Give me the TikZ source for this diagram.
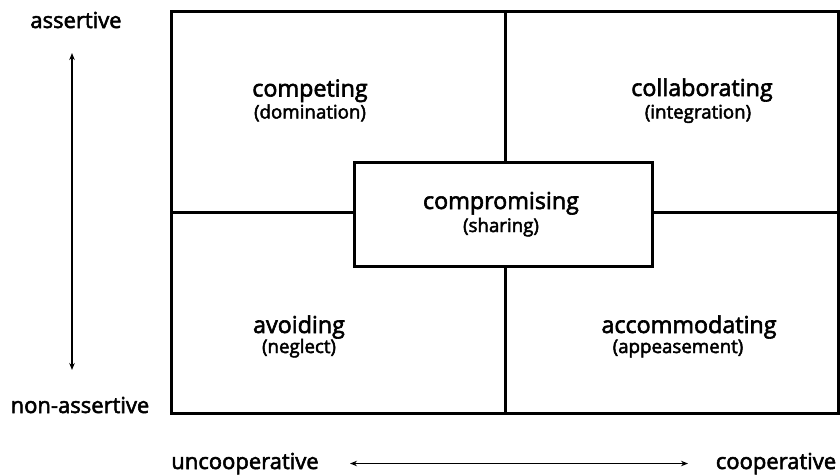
\documentclass[tikz,border=0pt]{standalone}
\usepackage{fontspec}
\setmainfont{Open Sans}
\newfontfamily\semifont{Open Sans}[FakeBold=2.5]
\usetikzlibrary{arrows.meta}
\begin{document}
\begin{tikzpicture}[x=1pt,y=-1pt,
  frame/.style={line width=3pt},
  axis/.style={line width=1.5pt,{Stealth[length=7pt,width=5.5pt]}-{Stealth[length=7pt,width=5.5pt]}},
  main/.style={anchor=base,font=\semifont\fontsize{23.3}{25}\selectfont},
  sub/.style={anchor=base,font=\semifont\fontsize{18.7}{20}\selectfont},
  axlabel/.style={anchor=base,font=\semifont\fontsize{22}{24}\selectfont}]
\useasboundingbox (0,0) rectangle (840,475);
% outer frame corners
\coordinate (tl) at (171,11);
\coordinate (br) at (838,413);
\coordinate (tm) at (505,11);
\coordinate (bm) at (505,413);
\coordinate (ml) at (171,212);
\coordinate (mr) at (838,212);
\draw[frame] (tl) rectangle (br);
\node[frame,draw,fill=white,minimum width=298pt,minimum height=104pt,inner sep=0pt] (cbox) at (503,214) {};
\draw[frame] (tm) -- (cbox.north -| tm);
\draw[frame] (cbox.south -| bm) -- (bm);
\draw[frame] (ml) -- (ml -| cbox.west);
\draw[frame] (mr -| cbox.east) -- (mr);
% quadrant texts
\node[main] (comp) at (310,96.5) {competing};
\node[sub] (dom) at (310,118.5) {(domination)};
\node[main] (coll) at (702,96) {collaborating};
\node[sub] (integ) at (698,118.5) {(integration)};
\node[main] (compr) at (501,209) {compromising};
\node[sub] (shar) at (501,232) {(sharing)};
\node[main] (avoid) at (299,333) {avoiding};
\node[sub] (negl) at (299,353) {(neglect)};
\node[main] (accom) at (689,333) {accommodating};
\node[sub] (appe) at (678,353) {(appeasement)};
% axes
\node[axlabel] (as) at (76,28) {assertive};
\node[axlabel] (nas) at (80,413) {non-assertive};
\node[axlabel] (unc) at (245,469) {uncooperative};
\node[axlabel] (coop) at (776,469) {cooperative};
\coordinate (vtop) at (72,53);
\coordinate (vbot) at (72,370);
\coordinate (hl) at (350,463.5);
\coordinate (hr) at (688,463.5);
\draw[axis] (vtop) -- (vbot);
\draw[axis] (hl) -- (hr);
\end{tikzpicture}
\end{document}
